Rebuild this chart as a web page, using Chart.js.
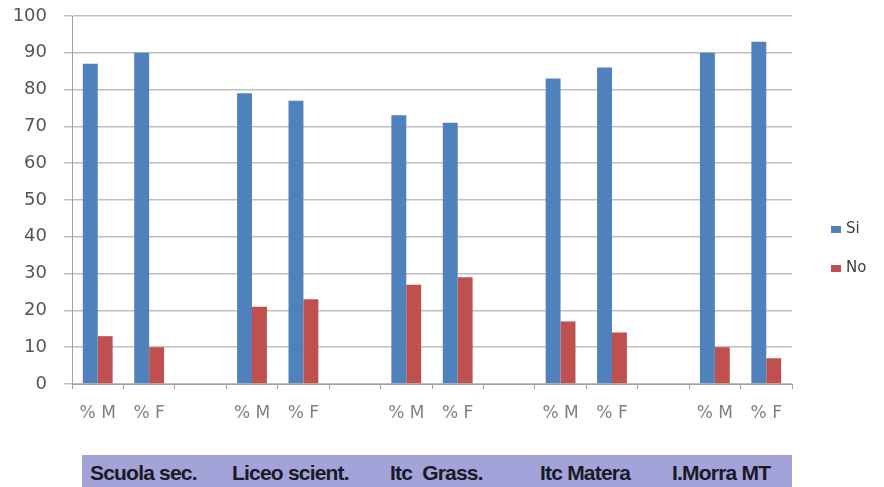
<!DOCTYPE html>
<html>
<head>
<meta charset="utf-8">
<script src="https://cdn.jsdelivr.net/npm/chart.js@4/dist/chart.umd.min.js"></script>
<style>
  html, body { margin: 0; padding: 0; background: #fff; }
  #wrap { position: relative; width: 884px; height: 487px; overflow: hidden; }
  #chart { position: absolute; left: 0; top: 0; }
  #schools {
    position: absolute; left: 82px; top: 455px; width: 710px; height: 40px;
    background: #a3a3da;
  }
  #schools span {
    position: absolute; top: 6px;
    font-family: "Liberation Sans", Arial, sans-serif; font-size: 21px; font-weight: bold;
    letter-spacing: -0.8px; color: #1a1a26; white-space: pre;
  }
  #legend { position: absolute; left: 831px; top: 219px; }
  #legend div {
    position: relative; height: 39px;
    font-family: "DejaVu Sans", sans-serif; font-size: 15px; color: #404040;
  }
  #legend i { position: absolute; left: 0; top: 7px; width: 10px; height: 7px; }
  #legend b { position: absolute; left: 15px; top: 0; font-weight: normal; }
</style>
</head>
<body>
<div id="wrap">
  <canvas id="chart" width="884" height="487"></canvas>
  <div id="schools"></div>
  <div id="legend"></div>
</div>
<script>
// Schools shown in the band under the axis
const schools = ['Scuola sec.', 'Liceo scient.', 'Itc  Grass.', 'Itc Matera', 'I.Morra MT'];
const schoolOffsets = [8, 150, 308, 458, 590];

// One slot per gender column, with an empty slot between schools
const categories = ['% M', '% F', '', '% M', '% F', '', '% M', '% F', '', '% M', '% F', '', '% M', '% F'];
const siValues = [87, 90, null, 79, 77, null, 73, 71, null, 83, 86, null, 90, 93];
const noValues = [13, 10, null, 21, 23, null, 27, 29, null, 17, 14, null, 10, 7];
const yTicks = [0, 10, 20, 30, 40, 50, 60, 70, 80, 90, 100];

const band = document.getElementById('schools');
schools.forEach((name, i) => {
  const s = document.createElement('span');
  s.textContent = name;
  s.style.left = schoolOffsets[i] + 'px';
  band.appendChild(s);
});

const chart = new Chart(document.getElementById('chart'), {
  type: 'bar',
  data: {
    labels: categories,
    datasets: [
      { label: 'Si', data: siValues, backgroundColor: '#4f81bd' },
      { label: 'No', data: noValues, backgroundColor: '#c0504d' }
    ]
  },
  options: {
    responsive: false,
    animation: false,
    devicePixelRatio: 1,
    layout: { padding: { top: 16, right: 92, bottom: 0, left: 0 } },
    datasets: { bar: { categoryPercentage: 0.58, barPercentage: 1.0 } },
    plugins: {
      tooltip: { enabled: false },
      legend: { display: false }
    },
    scales: {
      x: {
        offset: true,
        afterFit: (scale) => { scale.height = 103; scale.paddingLeft = 0; scale.paddingRight = 0; },
        grid: { display: true, drawOnChartArea: false, drawTicks: true, tickLength: 5, offset: true, color: '#a0a0a0' },
        border: { display: true, color: '#a0a0a0', width: 1 },
        ticks: {
          color: '#808080', padding: 14, maxRotation: 0, autoSkip: false,
          font: { family: 'DejaVu Sans', size: 17 }
        }
      },
      y: {
        min: 0, max: 100,
        afterBuildTicks: (scale) => { scale.ticks = yTicks.map(v => ({ value: v })); },
        afterFit: (scale) => { scale.width = 72; scale.paddingTop = 0; scale.paddingBottom = 0; },
        grid: { color: '#bfbfbf', lineWidth: 1.5, tickLength: 8 },
        border: { display: true, color: '#a0a0a0', width: 1 },
        ticks: {
          color: '#555555', padding: 17,
          font: { family: 'DejaVu Sans', size: 18 }
        }
      }
    }
  }
});

// Legend built from the datasets
const legend = document.getElementById('legend');
chart.data.datasets.forEach(ds => {
  const row = document.createElement('div');
  const box = document.createElement('i');
  box.style.background = ds.backgroundColor;
  const txt = document.createElement('b');
  txt.textContent = ds.label;
  row.appendChild(box);
  row.appendChild(txt);
  legend.appendChild(row);
});
</script>
</body>
</html>
